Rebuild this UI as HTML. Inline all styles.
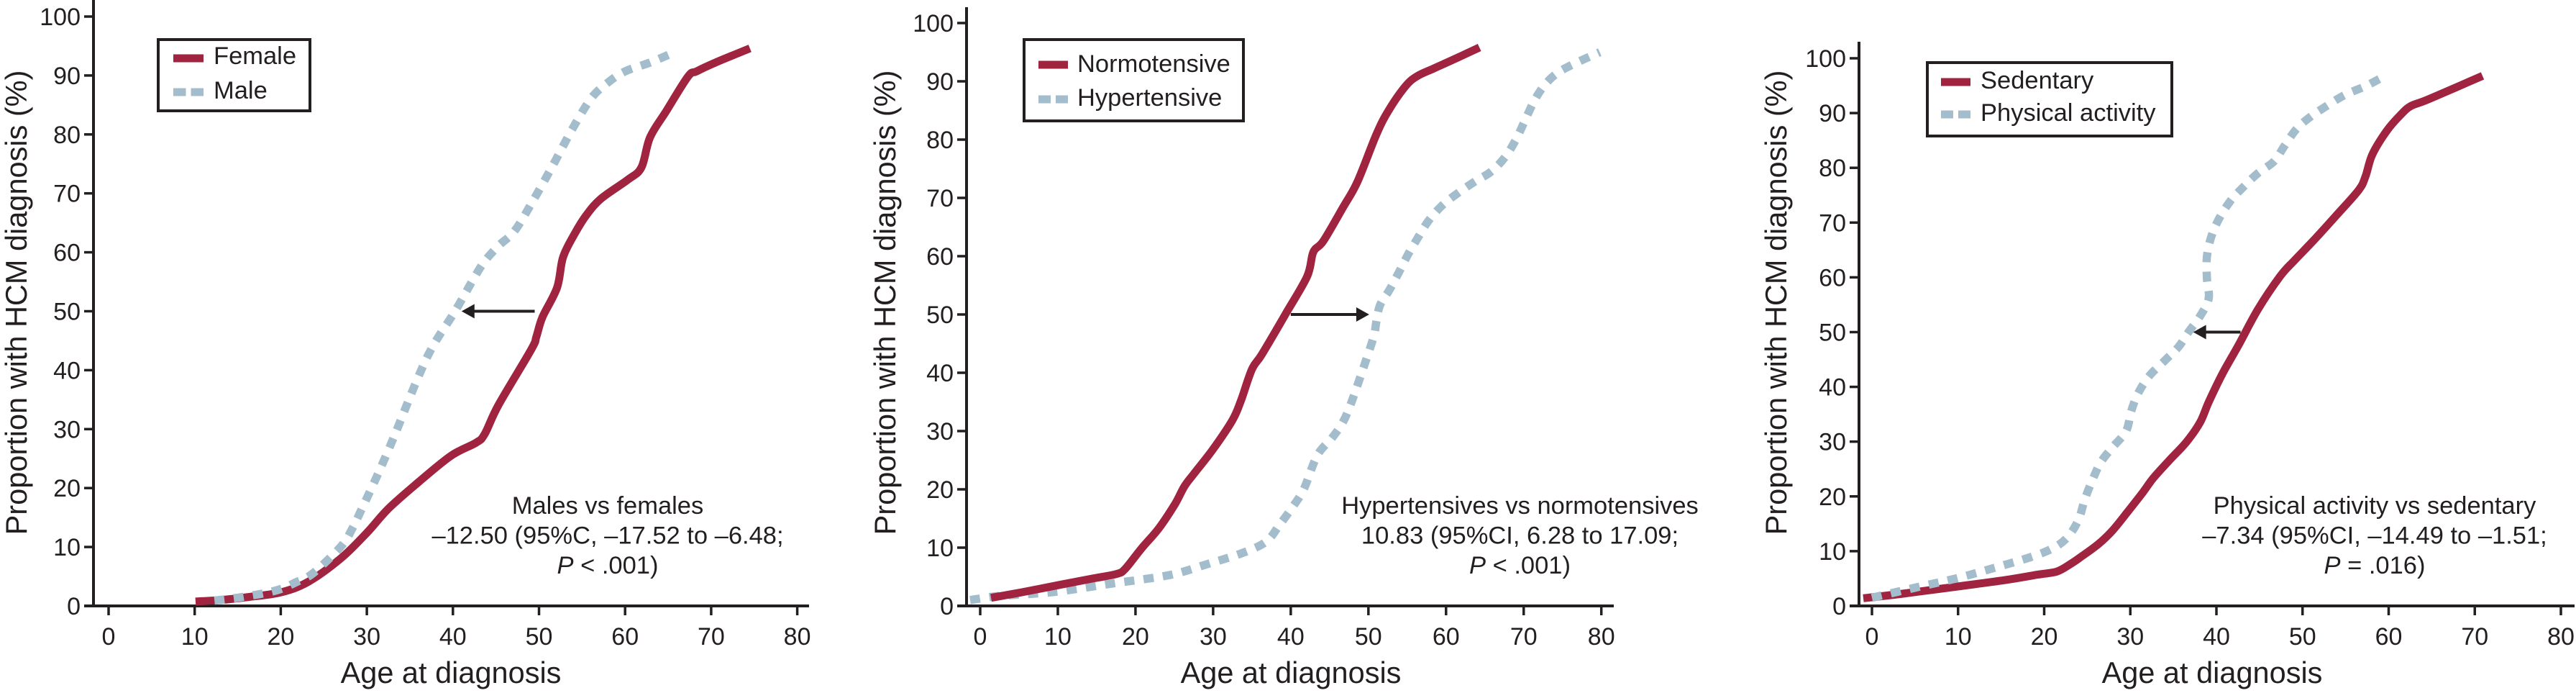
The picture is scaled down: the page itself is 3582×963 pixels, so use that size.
<!DOCTYPE html>
<html lang="en">
<head>
<meta charset="utf-8">
<title>Cumulative proportion with HCM diagnosis by age</title>
<style>
  html, body { margin: 0; padding: 0; background: #fff; }
  svg { display: block; }
  text { font-family: "Liberation Sans", sans-serif; fill: #231f20; }
  .tick { font-size: 34px; }
  .axis-title { font-size: 41.5px; }
  .legend-text { font-size: 34.5px; }
  .note { font-size: 34.5px; text-anchor: middle; }
</style>
</head>
<body>
<svg id="figure" xmlns="http://www.w3.org/2000/svg" width="3582" height="963" viewBox="0 0 3582 963">
  <rect x="0" y="0" width="3582" height="963" fill="#ffffff"/>

  <g id="panel-sex">
    <text class="axis-title" transform="translate(37 420.5) rotate(-90)" text-anchor="middle">Proportion with HCM diagnosis (%)</text>
    <text class="axis-title" x="627" y="949" text-anchor="middle">Age at diagnosis</text>
    <g>
      <rect x="220" y="55" width="211" height="99" fill="#fff" stroke="#231f20" stroke-width="4"/>
      <line x1="241" y1="81" x2="283" y2="81" stroke="#a0233f" stroke-width="11"/>
      <text class="legend-text" x="297" y="89">Female</text>
      <line x1="241" y1="128" x2="283" y2="128" stroke="#a3bdcc" stroke-width="11" stroke-dasharray="17.5 7"/>
      <text class="legend-text" x="297" y="137">Male</text>
    </g>
    <g>
      <text class="note" x="845" y="714">Males vs females</text>
      <text class="note" x="845" y="755.5">–12.50 (95%C, –17.52 to –6.48;</text>
      <text class="note" x="845" y="797"><tspan font-style="italic">P</tspan> &lt; .001)</text>
    </g>
  </g>

  <g id="panel-bp">
    <text class="axis-title" transform="translate(1245 420.5) rotate(-90)" text-anchor="middle">Proportion with HCM diagnosis (%)</text>
    <text class="axis-title" x="1795" y="949" text-anchor="middle">Age at diagnosis</text>
    <g>
      <rect x="1424" y="55" width="305" height="113" fill="#fff" stroke="#231f20" stroke-width="4"/>
      <line x1="1444" y1="90" x2="1485" y2="90" stroke="#a0233f" stroke-width="11"/>
      <text class="legend-text" x="1498" y="100">Normotensive</text>
      <line x1="1444" y1="138" x2="1485" y2="138" stroke="#a3bdcc" stroke-width="11" stroke-dasharray="17 7"/>
      <text class="legend-text" x="1498" y="147">Hypertensive</text>
    </g>
    <g>
      <text class="note" x="2113.5" y="714">Hypertensives vs normotensives</text>
      <text class="note" x="2113.5" y="755.5">10.83 (95%CI, 6.28 to 17.09;</text>
      <text class="note" x="2113.5" y="797"><tspan font-style="italic">P</tspan> &lt; .001)</text>
    </g>
  </g>

  <g id="panel-pa">
    <text class="axis-title" transform="translate(2484 420.5) rotate(-90)" text-anchor="middle">Proportion with HCM diagnosis (%)</text>
    <text class="axis-title" x="3076" y="949" text-anchor="middle">Age at diagnosis</text>
    <g>
      <rect x="2680" y="87" width="340" height="102" fill="#fff" stroke="#231f20" stroke-width="4"/>
      <line x1="2699" y1="114" x2="2740" y2="114" stroke="#a0233f" stroke-width="11"/>
      <text class="legend-text" x="2754" y="123">Sedentary</text>
      <line x1="2699" y1="159" x2="2740" y2="159" stroke="#a3bdcc" stroke-width="11" stroke-dasharray="17 7"/>
      <text class="legend-text" x="2754" y="168">Physical activity</text>
    </g>
    <g>
      <text class="note" x="3302" y="714">Physical activity vs sedentary</text>
      <text class="note" x="3302" y="755.5">–7.34 (95%CI, –14.49 to –1.51;</text>
      <text class="note" x="3302" y="797"><tspan font-style="italic">P</tspan> = .016)</text>
    </g>
  </g>
</svg>

<script>
// Shared axis ticks
const xTickValues = [0, 10, 20, 30, 40, 50, 60, 70, 80];
const yTickValues = [0, 10, 20, 30, 40, 50, 60, 70, 80, 90, 100];

// Panel 1: sex
const femaleAges = [10.1, 13, 16.2, 20, 23.2, 27, 30, 32.5, 36, 39.8, 42.7, 43.7, 45.3, 49.1, 49.7, 50.4, 52.1, 52.8, 54.2, 55.5, 57.2, 60.3, 61.9, 62.9, 64.8, 67.3, 68.3, 70.5, 74.5];
const femaleProportions = [0.75, 1, 1.5, 2.3, 4.1, 8.1, 12.4, 16.5, 21, 25.5, 27.7, 29.2, 34.1, 43.5, 45.7, 49, 54, 59.2, 63.3, 66.3, 69.1, 72.3, 74.4, 79.5, 84, 89.8, 90.7, 92.2, 94.6];
const maleAges = [12.3, 15.5, 19.4, 21.9, 23.8, 27, 28.3, 29.3, 31.2, 33.1, 35.7, 37.6, 40.2, 42.4, 43.7, 45.3, 47.2, 49.4, 51.7, 53.9, 56.1, 58, 60, 62.9, 66];
const maleProportions = [0.9, 1.5, 2.6, 4.1, 5.6, 10.1, 13.1, 16.1, 22.1, 28.5, 37.9, 43.9, 49.9, 55.5, 58.5, 61.1, 63.7, 69, 75, 81, 86.2, 88.8, 90.7, 92.2, 94.1];

// Panel 2: blood pressure
const normotensiveAges = [1.4, 5.2, 10.2, 14.5, 17.6, 18.7, 20.8, 23, 25.1, 26.3, 27.6, 30, 32.5, 33.6, 35, 36.3, 39.3, 42.1, 42.9, 44.2, 46.7, 48.6, 51, 52.6, 54.8, 56.3, 58.4, 60.9, 64.3];
const normotensiveProportions = [1.4, 2.3, 3.6, 4.7, 5.5, 6.4, 9.9, 13.3, 17.5, 20.5, 22.8, 26.9, 31.9, 35.3, 40.6, 43.2, 50, 56.5, 60.7, 62.6, 68.3, 72.8, 80.8, 85, 89.2, 90.9, 92.2, 93.7, 95.8];
const hypertensiveAges = [-1.3, 2.4, 9.5, 17.3, 24.4, 29.3, 33.6, 36.8, 38.6, 40.3, 41.7, 43.4, 45.3, 46.7, 47.8, 49.5, 50.7, 51, 51.5, 52.7, 53.8, 55.1, 56.3, 57.7, 59.5, 61.6, 63.7, 65.8, 67.6, 69, 70.1, 71.3, 72.6, 74.3, 76.8, 79.8];
const hypertensiveProportions = [1, 1.7, 2.4, 3.9, 5.3, 7.2, 9, 11, 14, 17.1, 20.1, 25.8, 28.8, 31.5, 34.9, 41.4, 46.3, 48.6, 51.6, 54.2, 56.9, 60.3, 63, 66, 68.7, 70.9, 72.8, 74.5, 77, 80, 83.1, 86.5, 89.2, 91.4, 93.2, 95];

// Panel 3: physical activity
const sedentaryAges = [-1, 3.9, 9.7, 15.4, 19.2, 21.5, 23.1, 24.4, 26.3, 27.9, 29.8, 31.4, 32.7, 34.6, 36.5, 38.1, 39.1, 40.7, 42.6, 44.8, 47.4, 49, 51.2, 53.8, 56.5, 57.3, 58.1, 59.8, 61.4, 62.6, 64.6, 70.9];
const sedentaryProportions = [1.4, 2.3, 3.5, 4.7, 5.7, 6.3, 7.7, 9.1, 11.3, 13.7, 17.4, 20.6, 23.4, 26.7, 29.9, 33.5, 37.2, 42.4, 47.7, 54.1, 60.2, 63, 66.6, 71.1, 75.9, 78.4, 82.4, 86.8, 89.7, 91.3, 92.5, 96.8];
const activeAges = [0, 5.2, 9.7, 14.1, 18.6, 21.2, 22.8, 24, 24.7, 25.6, 26.6, 27.9, 29.5, 30.1, 30.9, 32.2, 34, 35.6, 36.8, 38.1, 39.1, 38.9, 38.9, 39.4, 40.3, 41.6, 43, 44.8, 46.7, 47.9, 49.3, 50.9, 52.8, 54.9, 57.3, 59];
const activeProportions = [1.5, 3.4, 5, 6.9, 9, 10.7, 12.7, 15.8, 19.4, 23, 26.3, 28.9, 31.9, 35.5, 38.8, 42, 44.8, 47.3, 50.1, 52.9, 56.1, 59.8, 63.8, 67.4, 70.7, 73.9, 76.3, 79, 81.2, 84, 87.1, 89.3, 91.3, 93.3, 94.9, 96.3];

// Median-shift arrows: [from age, to age] at 50%
const sexShift = [49.5, 41];
const bpShift = [40, 50.1];
const activityShift = [42.8, 37.3];

const SVG_NS = 'http://www.w3.org/2000/svg';
const INK = '#231f20';
const RED = '#a0233f';
const BLUE = '#a3bdcc';

function scaleLinear(d0, d1, r0, r1) {
  return function (v) { return r0 + (v - d0) * (r1 - r0) / (d1 - d0); };
}

function make(tag, attrs, parent) {
  const el = document.createElementNS(SVG_NS, tag);
  Object.keys(attrs).forEach(function (k) { el.setAttribute(k, attrs[k]); });
  parent.appendChild(el);
  return el;
}

function smoothPath(points) {
  let d = 'M' + points[0][0].toFixed(1) + ' ' + points[0][1].toFixed(1);
  for (let i = 0; i < points.length - 1; i++) {
    const p0 = points[Math.max(i - 1, 0)];
    const p1 = points[i];
    const p2 = points[i + 1];
    const p3 = points[Math.min(i + 2, points.length - 1)];
    const c1x = p1[0] + (p2[0] - p0[0]) / 6;
    const c1y = p1[1] + (p2[1] - p0[1]) / 6;
    const c2x = p2[0] - (p3[0] - p1[0]) / 6;
    const c2y = p2[1] - (p3[1] - p1[1]) / 6;
    d += 'C' + c1x.toFixed(1) + ' ' + c1y.toFixed(1) + ' ' + c2x.toFixed(1) + ' ' + c2y.toFixed(1) + ' ' + p2[0].toFixed(1) + ' ' + p2[1].toFixed(1);
  }
  return d;
}

function drawAxes(group, x, y, axisX, axisTop, axisRight) {
  const base = y(0);
  const yAxis = make('line', { x1: axisX, y1: axisTop, x2: axisX, y2: base + 2, stroke: INK, 'stroke-width': 4 }, group);
  
  
  const xAxis = make('line', { x1: axisX - 13, y1: base, x2: axisRight, y2: base, stroke: INK, 'stroke-width': 4 }, group);
  
  

  yTickValues.forEach(function (v) {
    if (v > 0) {
      const mark = make('line', { x1: axisX - 13, y1: y(v), x2: axisX, y2: y(v), stroke: INK, 'stroke-width': 3.5 }, group);
      
      
    }
    const label = make('text', { class: 'tick', x: axisX - 18, y: y(v) + 12, 'text-anchor': 'end' }, group);
    
    
    label.textContent = v;
  });

  xTickValues.forEach(function (v) {
    const mark = make('line', { x1: x(v), y1: base, x2: x(v), y2: base + 13, stroke: INK, 'stroke-width': 3.5 }, group);
    
    
    const label = make('text', { class: 'tick', x: x(v), y: base + 54, 'text-anchor': 'middle' }, group);
    
    
    label.textContent = v;
  });
}

function drawSeries(group, x, y, ages, proportions, color, dashed) {
  const pts = ages.map(function (a, i) { return [x(a), y(proportions[i])]; });
  const attrs = { d: smoothPath(pts), fill: 'none', stroke: color, 'stroke-width': dashed ? 11.5 : 11, 'stroke-linejoin': 'round' };
  if (dashed) { attrs['stroke-dasharray'] = '14 13'; }
  return make('path', attrs, group);
}

function drawArrow(group, x, y, shift) {
  const dir = shift[1] < shift[0] ? 1 : -1;
  const tip = x(shift[1]);
  const yPos = y(50);
  const line = make('line', { x1: x(shift[0]), y1: yPos, x2: tip + dir * 15, y2: yPos, stroke: INK, 'stroke-width': 4 }, group);
  
  
  const head = make('polygon', { points: tip + ',' + yPos + ' ' + (tip + dir * 18) + ',' + (yPos - 10) + ' ' + (tip + dir * 18) + ',' + (yPos + 10), fill: INK }, group);
  
  
}

// Panel 1
(function () {
  const g = document.getElementById('panel-sex');
  const x = scaleLinear(0, 80, 151, 1108.6);
  const y = scaleLinear(0, 100, 842, 23);
  drawAxes(g, x, y, 130, 0, 1125);
  const female = drawSeries(g, x, y, femaleAges, femaleProportions, RED, false);
  
  
  const male = drawSeries(g, x, y, maleAges, maleProportions, BLUE, true);
  
  
  drawArrow(g, x, y, sexShift);
})();

// Panel 2
(function () {
  const g = document.getElementById('panel-bp');
  const x = scaleLinear(0, 80, 1363, 2226.7);
  const y = scaleLinear(0, 100, 842, 32);
  drawAxes(g, x, y, 1344, 10, 2244);
  const hyper = drawSeries(g, x, y, hypertensiveAges, hypertensiveProportions, BLUE, true);
  
  
  const normo = drawSeries(g, x, y, normotensiveAges, normotensiveProportions, RED, false);
  
  
  drawArrow(g, x, y, bpShift);
})();

// Panel 3
(function () {
  const g = document.getElementById('panel-pa');
  const x = scaleLinear(0, 80, 2603, 3561);
  const y = scaleLinear(0, 100, 842, 81);
  drawAxes(g, x, y, 2585, 58, 3580);
  const sedentary = drawSeries(g, x, y, sedentaryAges, sedentaryProportions, RED, false);
  
  
  const active = drawSeries(g, x, y, activeAges, activeProportions, BLUE, true);
  
  
  drawArrow(g, x, y, activityShift);
})();
</script>
</body>
</html>
